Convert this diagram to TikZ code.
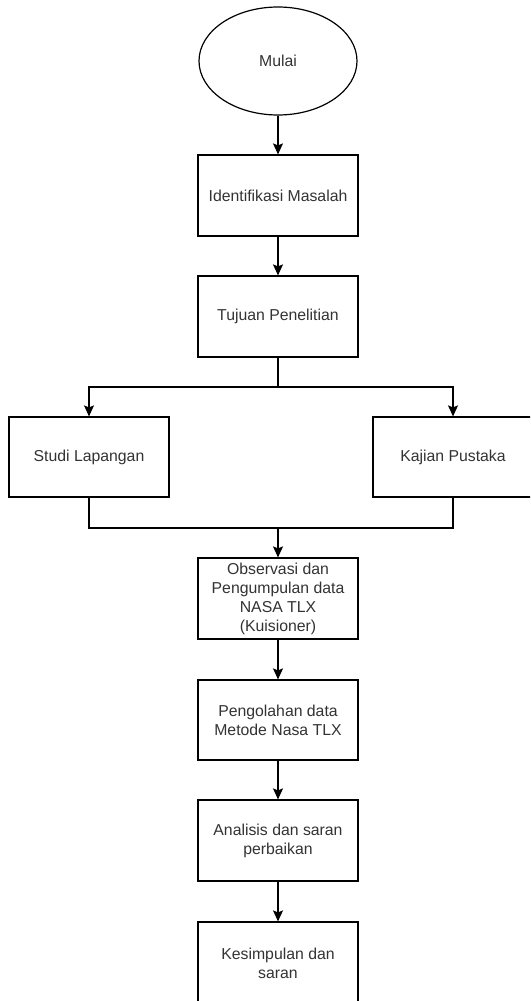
\documentclass[tikz,border=0pt]{standalone}
\usepackage{fontspec}
\setmainfont{Liberation Sans}
\usetikzlibrary{shapes.geometric,arrows.meta}
\definecolor{txt}{HTML}{333333}
\tikzset{
  base/.style={draw=black, line width=1.2pt, fill=white, text=txt, align=center,
    font=\fontsize{15.8}{19}\selectfont, inner sep=0pt},
  procbox/.style={base, rectangle, minimum width=160pt, minimum height=81pt},
  startnode/.style={base, ellipse, minimum width=158pt, minimum height=108pt},
  conn/.style={draw=black, line width=1.2pt},
  arr/.style={conn, -{Stealth[length=11pt,width=10pt,inset=2pt]}}
}
\begin{document}
\begin{tikzpicture}[x=1pt,y=-1pt]
\clip (0,0) rectangle (530,1001);
\fill[white] (0,0) rectangle (530,1001);

\node[startnode] (start) at (278,61) {Mulai};
\node[procbox] (b1) at (278,195.5) {Identifikasi Masalah};
\node[procbox] (b2) at (278,316.5) {Tujuan Penelitian};
\node[procbox, minimum height=80pt] (b3) at (89,457) {Studi Lapangan};
\node[procbox, minimum height=80pt] (b4) at (453,457) {Kajian Pustaka};
\node[procbox] (b5) at (278,598.5) {Observasi dan\\Pengumpulan data\\NASA TLX\\(Kuisioner)};
\node[procbox, minimum height=80pt] (b6) at (278,720) {Pengolahan data\\Metode Nasa TLX};
\node[procbox] (b7) at (278,840.5) {Analisis dan saran\\perbaikan};
\node[procbox, minimum height=82pt] (b8) at (278,963) {Kesimpulan dan\\saran};

\coordinate (j1) at (278,387);
\coordinate (j2) at (278,528);

\draw[arr] (start) -- (b1);
\draw[arr] (b1) -- (b2);
\draw[conn] (b2.south) -- (j1);
\draw[arr] (j1) -| (b3.north);
\draw[arr] (j1) -| (b4.north);
\draw[conn] (b3.south) |- (j2);
\draw[conn] (b4.south) |- (j2);
\draw[arr] (j2) -- (b5.north);
\draw[arr] (b5) -- (b6);
\draw[arr] (b6) -- (b7);
\draw[arr] (b7) -- (b8);
\end{tikzpicture}
\end{document}
